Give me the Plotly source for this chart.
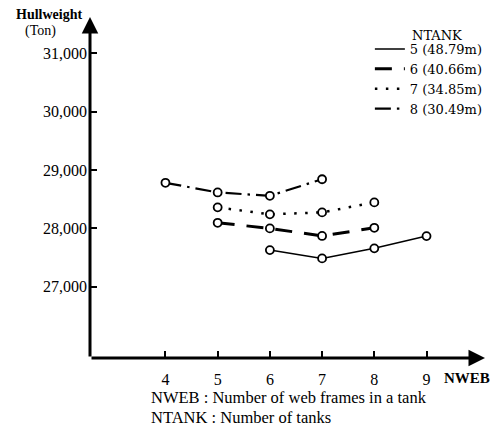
import plotly.graph_objects as go

# ---- data ----
nweb_5 = [6, 7, 8, 9]
hull_5 = [27628, 27486, 27658, 27868]
nweb_6 = [5, 6, 7, 8]
hull_6 = [28096, 28000, 27870, 28010]
nweb_7 = [5, 6, 7, 8]
hull_7 = [28360, 28240, 28274, 28445]
nweb_8 = [4, 5, 6, 7]
hull_8 = [28781, 28616, 28558, 28842]

series_names = ["5 (48.79m)", "6 (40.66m)", "7 (34.85m)", "8 (30.49m)"]
x_ticks = [4, 5, 6, 7, 8, 9]
y_ticks = [27000, 28000, 29000, 30000, 31000]
y_tick_text = ["27,000", "28,000", "29,000", "30,000", "31,000"]

X_RANGE = [2.555, 10.12]
Y_RANGE = [25779, 31622]

series = [
    (nweb_5, hull_5, series_names[0], dict(dash="solid", width=1.5)),
    (nweb_6, hull_6, series_names[1], dict(dash="17px,12px", width=3)),
    (nweb_7, hull_7, series_names[2], dict(dash="2.5px,8.5px", width=2.5)),
    (nweb_8, hull_8, series_names[3], dict(dash="16px,6px,2.5px,6px", width=2.2)),
]

fig = go.Figure()
for xs, ys, name, ln in series:
    fig.add_trace(go.Scatter(x=xs, y=ys, mode="lines", name=name,
                             line=dict(color="black", **ln), showlegend=True))
for xs, ys, name, ln in series:
    fig.add_trace(go.Scatter(x=xs, y=ys, mode="markers", showlegend=False,
                             marker=dict(symbol="circle", size=8, color="white",
                                         line=dict(color="black", width=1.8))))

tickfont = dict(family="Liberation Serif", size=16, color="black")


def px(xp):
    return (xp - 90) / 398


def py(yp):
    return 1 - (yp - 17) / 341


fig.update_layout(
    width=500, height=429,
    margin=dict(l=90, r=12, t=17, b=71),
    paper_bgcolor="white", plot_bgcolor="white",
    showlegend=True,
    legend=dict(x=px(372), y=py(34), xanchor="left", yanchor="top",
                font=dict(family="DejaVu Serif", size=13, color="black"),
                bgcolor="rgba(0,0,0,0)", tracegroupgap=0, itemclick=False),
    xaxis=dict(range=X_RANGE, tickvals=x_ticks, ticktext=[str(v) for v in x_ticks],
               ticks="inside", ticklen=7, tickwidth=1.5, tickcolor="black",
               showline=False, showgrid=False, zeroline=False,
               tickfont=tickfont, ticklabelstandoff=10),
    yaxis=dict(range=Y_RANGE, tickvals=y_ticks, ticktext=y_tick_text,
               ticks="inside", ticklen=7, tickwidth=1.5, tickcolor="black",
               showline=False, showgrid=False, zeroline=False,
               tickfont=tickfont, ticklabelstandoff=2),
)

# axis lines with arrowheads
fig.add_annotation(x=X_RANGE[1], y=Y_RANGE[0], ax=X_RANGE[0], ay=Y_RANGE[0],
                   xref="x", yref="y", axref="x", ayref="y", text="",
                   showarrow=True, arrowhead=2, arrowsize=1.1, arrowwidth=3,
                   arrowcolor="black", standoff=0)
fig.add_annotation(x=X_RANGE[0], y=Y_RANGE[1], ax=X_RANGE[0], ay=Y_RANGE[0],
                   xref="x", yref="y", axref="x", ayref="y", text="",
                   showarrow=True, arrowhead=2, arrowsize=1.1, arrowwidth=3,
                   arrowcolor="black", standoff=0)

serif = "Liberation Serif"
fig.add_annotation(x=px(49), y=py(14), xref="paper", yref="paper", text="<b>Hullweight</b>",
                   showarrow=False, font=dict(family=serif, size=14, color="black"),
                   xanchor="center", yanchor="middle")
fig.add_annotation(x=px(40), y=py(31), xref="paper", yref="paper", text="(Ton)",
                   showarrow=False, font=dict(family=serif, size=14, color="black"),
                   xanchor="center", yanchor="middle")
fig.add_annotation(x=px(412), y=py(36), xref="paper", yref="paper", text="NTANK",
                   showarrow=False, font=dict(family="DejaVu Serif", size=13, color="black"),
                   xanchor="left", yanchor="middle")
fig.add_annotation(x=px(470), y=py(378), xref="paper", yref="paper", text="<b>NWEB</b>",
                   showarrow=False, font=dict(family=serif, size=15, color="black"),
                   xanchor="center", yanchor="middle")
fig.add_annotation(x=px(149), y=py(398), xref="paper", yref="paper",
                   text="NWEB : Number of web frames in a tank",
                   showarrow=False, font=dict(family=serif, size=16.5, color="black"),
                   xanchor="left", yanchor="middle")
fig.add_annotation(x=px(149), y=py(417), xref="paper", yref="paper",
                   text="NTANK : Number of tanks",
                   showarrow=False, font=dict(family=serif, size=16.5, color="black"),
                   xanchor="left", yanchor="middle")

fig.write_html("out.html")
